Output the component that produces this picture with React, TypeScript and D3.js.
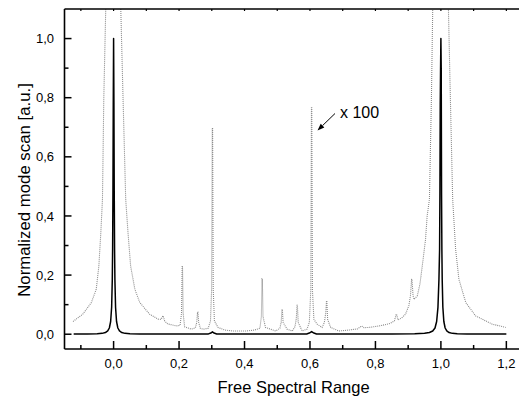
import React from 'react';
import * as d3 from 'd3';

// ---- data ----
const xMajorTicks = [0, 0.2, 0.4, 0.6, 0.8, 1.0, 1.2];
const xMinorTicks = [-0.1, 0.1, 0.3, 0.5, 0.7, 0.9, 1.1];
const yMajorTicks = [0, 0.2, 0.4, 0.6, 0.8, 1.0];
const yMinorTicks = [0.1, 0.3, 0.5, 0.7, 0.9];

// measured mode scan (solid black)
const scanX = [
  -0.122, -0.08, -0.05, -0.035, -0.025, -0.018, -0.013, -0.009, -0.006, -0.004, -0.003, -0.002, -0.001,
  0, 0.001, 0.002, 0.003, 0.004, 0.006, 0.009, 0.013, 0.018, 0.025, 0.035, 0.05, 0.08, 0.15,
  0.29, 0.297, 0.302, 0.307, 0.315, 0.59, 0.598, 0.605, 0.612, 0.62, 0.85,
  0.92, 0.95, 0.965, 0.975, 0.982, 0.987, 0.991, 0.994, 0.996, 0.997, 0.998, 0.999,
  1.0, 1.001, 1.002, 1.003, 1.004, 1.006, 1.009, 1.013, 1.018, 1.025, 1.035, 1.05, 1.08, 1.2,
];
const scanY = [
  0.0004, 0.0006, 0.0014, 0.0029, 0.0057, 0.011, 0.021, 0.043, 0.091, 0.184, 0.286, 0.474, 0.78,
  1.0, 0.78, 0.474, 0.286, 0.184, 0.091, 0.043, 0.021, 0.011, 0.0057, 0.0029, 0.0014, 0.0006, 0.0004,
  0.001, 0.004, 0.008, 0.004, 0.001, 0.001, 0.004, 0.009, 0.004, 0.001, 0.0006,
  0.0014, 0.0029, 0.0057, 0.011, 0.021, 0.043, 0.091, 0.184, 0.286, 0.474, 0.78, 0.9,
  1.0, 0.9, 0.474, 0.286, 0.184, 0.091, 0.043, 0.021, 0.011, 0.0057, 0.0029, 0.0014, 0.0006, 0.0004,
];

// same scan magnified x100 (dotted grey)
const zoomX = [
  -0.124, -0.094, -0.068, -0.053, -0.045, -0.039, -0.034, -0.03, -0.024, -0.02,
  0.02, 0.022, 0.029, 0.037, 0.044, 0.052, 0.065, 0.08, 0.11, 0.136, 0.145, 0.1505, 0.1515, 0.156, 0.165,
  0.191, 0.203, 0.2075, 0.2095, 0.2105, 0.2125, 0.217, 0.238, 0.25, 0.254, 0.2565, 0.2575, 0.26, 0.265, 0.273,
  0.289, 0.296, 0.2995, 0.3015, 0.3025, 0.3045, 0.308, 0.319, 0.34, 0.365, 0.406, 0.43,
  0.447, 0.4515, 0.4535, 0.4545, 0.4565, 0.464, 0.495, 0.508, 0.512, 0.5145, 0.5155, 0.518, 0.53,
  0.546, 0.554, 0.558, 0.5605, 0.5615, 0.564, 0.576, 0.591, 0.598, 0.6025, 0.6045, 0.6055, 0.6075, 0.612,
  0.622, 0.637, 0.644, 0.648, 0.6505, 0.6515, 0.654, 0.663, 0.688, 0.719, 0.745, 0.758, 0.765,
  0.78, 0.8, 0.821, 0.846, 0.858, 0.8635, 0.8645, 0.869, 0.88, 0.892, 0.902, 0.907, 0.9105, 0.9115, 0.915,
  0.918, 0.928, 0.936, 0.943, 0.953, 0.958, 0.965, 0.971, 0.975, 0.98,
  1.02, 1.023, 1.029, 1.036, 1.045, 1.055, 1.076, 1.106, 1.157, 1.198,
];
const zoomY = [
  0.043, 0.068, 0.107, 0.152, 0.231, 0.344, 0.456, 0.794, 1.1, 1.6,
  1.6, 1.1, 0.794, 0.456, 0.344, 0.231, 0.152, 0.107, 0.068, 0.051, 0.05, 0.062, 0.062, 0.045, 0.035,
  0.028, 0.03, 0.07, 0.231, 0.231, 0.07, 0.025, 0.017, 0.022, 0.04, 0.075, 0.075, 0.04, 0.02, 0.017,
  0.02, 0.045, 0.15, 0.698, 0.698, 0.15, 0.045, 0.023, 0.014, 0.011, 0.011, 0.014,
  0.02, 0.06, 0.188, 0.188, 0.06, 0.023, 0.011, 0.02, 0.04, 0.084, 0.084, 0.04, 0.017,
  0.011, 0.025, 0.05, 0.098, 0.098, 0.04, 0.011, 0.017, 0.04, 0.15, 0.766, 0.766, 0.15, 0.05,
  0.034, 0.023, 0.04, 0.07, 0.113, 0.113, 0.05, 0.023, 0.011, 0.014, 0.018, 0.028, 0.022,
  0.023, 0.026, 0.03, 0.037, 0.045, 0.068, 0.068, 0.048, 0.055, 0.068, 0.096, 0.13, 0.186, 0.186, 0.13,
  0.118, 0.13, 0.17, 0.23, 0.32, 0.4, 0.456, 0.794, 1.1, 1.6,
  1.6, 1.1, 0.794, 0.456, 0.287, 0.186, 0.107, 0.062, 0.034, 0.023,
];

const xTitle = 'Free Spectral Range';
const yTitle = 'Normalized mode scan [a.u.]';
const annotation = 'x 100';

const W = 519;
const H = 400;
const left = 64.5;
const top = 9;
const bottom = 349;
const font = 'Liberation Sans, Arial, Helvetica, sans-serif';

const fmt = (v: number) => v.toFixed(1).replace('.', ',');

export default function App() {
  const x = d3.scaleLinear().domain([-0.15, 1.25]).range([left, left + 1.4 * 327.3]);
  const y = d3.scaleLinear().domain([-0.05, 1.1]).range([bottom, top]);

  const line = d3
    .line<[number, number]>()
    .x((d) => x(d[0]))
    .y((d) => y(d[1]));

  const scanPts = scanX.map((v, i) => [v, scanY[i]] as [number, number]);
  const zoomPts = zoomX.map((v, i) => [v, zoomY[i]] as [number, number]);

  const right = W + 5;
  const allTopTicks = [...xMajorTicks, ...xMinorTicks];

  // annotation arrow
  const ax1 = 335, ay1 = 113.5, ax2 = 317.5, ay2 = 130.5;
  const ang = Math.atan2(ay2 - ay1, ax2 - ax1);
  const hl = 7, hw = 2.6;
  const bx = ax2 - hl * Math.cos(ang), by = ay2 - hl * Math.sin(ang);
  const head = `M${ax2},${ay2}L${bx - hw * Math.sin(ang)},${by + hw * Math.cos(ang)}L${bx + hw * Math.sin(ang)},${by - hw * Math.cos(ang)}Z`;

  return (
    <svg
      width={W}
      height={H}
      style={{ position: 'absolute', left: 0, top: 0, background: '#fff' }}
      fontFamily={font}
    >
      <defs>
        <clipPath id="plotClip">
          <rect x={left} y={top} width={right - left} height={bottom - top} />
        </clipPath>
      </defs>
      <rect x={0} y={0} width={W} height={H} fill="#fff" />

      <g clipPath="url(#plotClip)">
        <path
          d={line(zoomPts) || ''}
          fill="none"
          stroke="#8a8a8a"
          strokeWidth={1.1}
          strokeDasharray="1,1"
        />
        <path d={line(scanPts) || ''} fill="none" stroke="#000" strokeWidth={1.5} strokeLinejoin="round" />
      </g>

      {/* axes frame */}
      <line x1={left} x2={left} y1={top} y2={bottom} stroke="#000" strokeWidth={1.6} />
      <line x1={left} x2={right} y1={bottom} y2={bottom} stroke="#000" strokeWidth={1.6} />
      <line x1={left} x2={right} y1={top} y2={top} stroke="#000" strokeWidth={1.4} />

      {/* bottom ticks */}
      {xMajorTicks.map((t) => (
        <line key={'xM' + t} x1={x(t)} x2={x(t)} y1={bottom} y2={bottom - 8} stroke="#000" strokeWidth={1.5} />
      ))}
      {xMinorTicks.map((t) => (
        <line key={'xm' + t} x1={x(t)} x2={x(t)} y1={bottom} y2={bottom - 4} stroke="#000" strokeWidth={1.5} />
      ))}
      {/* top ticks */}
      {allTopTicks.map((t) => (
        <line key={'xt' + t} x1={x(t)} x2={x(t)} y1={top} y2={top + 2} stroke="#000" strokeWidth={1.2} />
      ))}
      {/* left ticks */}
      {yMajorTicks.map((t) => (
        <line key={'yM' + t} x1={left} x2={left + 7} y1={y(t)} y2={y(t)} stroke="#000" strokeWidth={1.5} />
      ))}
      {yMinorTicks.map((t) => (
        <line key={'ym' + t} x1={left} x2={left + 4} y1={y(t)} y2={y(t)} stroke="#000" strokeWidth={1.5} />
      ))}

      {/* tick labels */}
      {xMajorTicks.map((t) => (
        <text key={'xl' + t} x={x(t)} y={368} textAnchor="middle" fontSize={13} fill="#000">
          {fmt(t)}
        </text>
      ))}
      {yMajorTicks.map((t) => (
        <text key={'yl' + t} x={54} y={y(t) + 4.6} textAnchor="end" fontSize={13} fill="#000">
          {fmt(t)}
        </text>
      ))}

      {/* titles */}
      <text x={293.5} y={393} textAnchor="middle" fontSize={16.5} fill="#000">
        {xTitle}
      </text>
      <text
        transform={`translate(30,190) rotate(-90)`}
        textAnchor="middle"
        fontSize={16.8}
        fill="#000"
      >
        {yTitle}
      </text>

      {/* annotation */}
      <line x1={ax1} y1={ay1} x2={bx} y2={by} stroke="#000" strokeWidth={1} />
      <path d={head} fill="#000" />
      <text x={340} y={117.5} fontSize={16} fill="#000">
        {annotation}
      </text>
    </svg>
  );
}
